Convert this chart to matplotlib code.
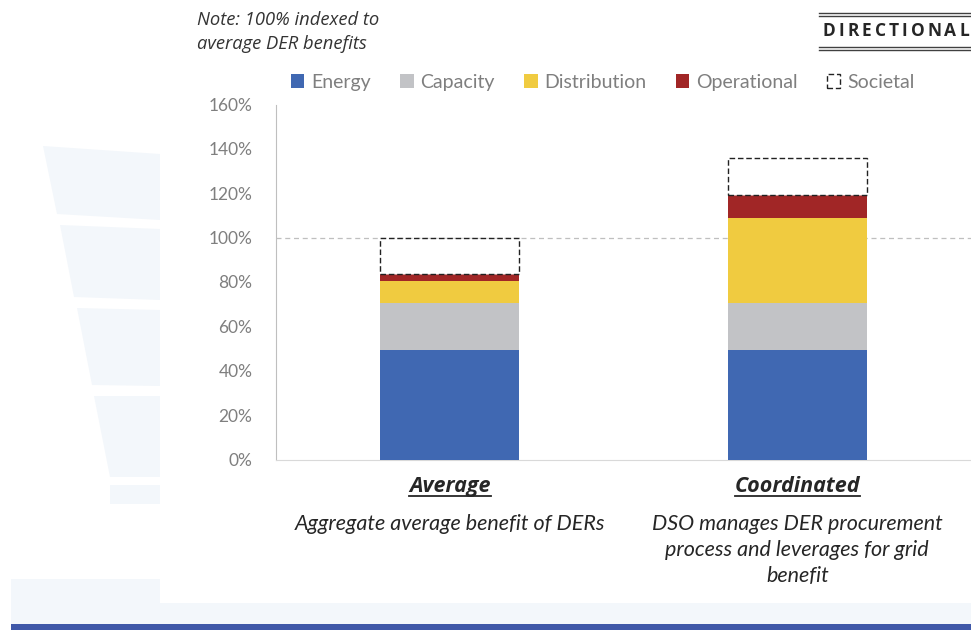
import matplotlib
matplotlib.use("Agg")
import matplotlib.pyplot as plt
from matplotlib.patches import Polygon, Rectangle
from matplotlib.lines import Line2D
import numpy as np

plt.rcParams['font.family'] = ['Lato', 'DejaVu Sans']

categories = ["Average", "Coordinated"]
descriptions = ["Aggregate average benefit of DERs",
                "DSO manages DER procurement\nprocess and leverages for grid\nbenefit"]
series_names = ["Energy", "Capacity", "Distribution", "Operational", "Societal"]
energy = [49.5, 49.5]
capacity = [21.0, 21.0]
distribution = [10.0, 38.5]
operational = [3.0, 10.0]
societal = [16.5, 17.0]
yticks = [0, 20, 40, 60, 80, 100, 120, 140, 160]

colors = ["#4068B2", "#C2C3C6", "#F0CB40", "#A12626", "white"]

W, H = 971, 630
fig = plt.figure(figsize=(W / 100, H / 100), dpi=100)

def fx(x):
    return x / W

def fy(y):
    return 1 - y / H

# background decoration
deco = "#F3F7FB"
bands = [
    [(43, 146), (160, 154), (160, 220), (57, 214)],
    [(60, 225), (160, 229), (160, 300), (74, 297)],
    [(77, 308), (160, 310), (160, 386), (92, 385)],
    [(94, 396), (160, 396), (160, 477), (110, 477)],
    [(110, 485), (160, 485), (160, 504), (110, 504)],
]
for b in bands:
    fig.patches.append(Polygon([(fx(x), fy(y)) for x, y in b], closed=True,
                               transform=fig.transFigure, facecolor=deco,
                               edgecolor='none', zorder=0))
fig.patches.append(Rectangle((fx(11), fy(624)), fx(960), (624 - 579) / H,
                             transform=fig.transFigure, facecolor=deco,
                             edgecolor='none', zorder=0))
fig.patches.append(Rectangle((fx(160), fy(603)), fx(811), (603 - 579) / H,
                             transform=fig.transFigure, facecolor='white',
                             edgecolor='none', zorder=0))
fig.patches.append(Rectangle((fx(11), 0), fx(960), 6 / H,
                             transform=fig.transFigure, facecolor='#3F58A8',
                             edgecolor='none', zorder=0))

ax_left, ax_bottom_px, ax_top_px = 276, 459.5, 104.5
ax = fig.add_axes([fx(ax_left), fy(ax_bottom_px), fx(971) - fx(ax_left),
                   (ax_bottom_px - ax_top_px) / H])
ax.set_facecolor('none')

x = np.arange(len(categories))
width = 0.4
bottoms = np.zeros(len(categories))
data = [energy, capacity, distribution, operational, societal]
for name, vals, col in zip(series_names, data, colors):
    vals = np.array(vals)
    if name == "Societal":
        ax.bar(x, vals, width, bottom=bottoms, facecolor='white',
               edgecolor='#222222', linestyle=(0, (4, 2)), linewidth=1.0,
               label=name, zorder=3)
    else:
        ax.bar(x, vals, width, bottom=bottoms, color=col, label=name,
               zorder=3, linewidth=0)
    bottoms = bottoms + vals

ax.set_xlim(-0.5, 1.5)
ax.set_ylim(0, 160)
ax.set_yticks(yticks)
ax.set_yticklabels([f"{t}%" for t in yticks], fontsize=12.5, color='#7F7F7F')
ax.set_xticks([])
ax.tick_params(axis='y', length=0, pad=17)
for s in ['top', 'right']:
    ax.spines[s].set_visible(False)
ax.spines['left'].set_color('#BFBFBF')
ax.spines['bottom'].set_color('#D9D9D9')
ax.axhline(100, color='#BFBFBF', linestyle=(0, (4, 3)), linewidth=0.9, zorder=1)

ax_w_px = 971 - ax_left
leg = ax.legend(ncol=5, loc='center left',
                bbox_to_anchor=((283 - ax_left) / ax_w_px,
                                1 + (ax_top_px - 82.5) / (ax_bottom_px - ax_top_px)),
                frameon=False, fontsize=14, handlelength=0.7, handleheight=0.7,
                handletextpad=0.35, columnspacing=1.5, borderaxespad=0)
for t in leg.get_texts():
    t.set_color('#7F7F7F')

# note
note_font = ['Open Sans', 'DejaVu Sans']
fig.text(fx(197), fy(20), "Note: 100% indexed to", fontsize=13.2, style='italic',
         color='#333333', va='center', ha='left', family=note_font)
fig.text(fx(197), fy(44), "average DER benefits", fontsize=13.2, style='italic',
         color='#333333', va='center', ha='left', family=note_font)

fig.canvas.draw()
renderer = fig.canvas.get_renderer()

# DIRECTIONAL with letter spacing
word = "DIRECTIONAL"
x0, x1 = 823, 969
chars = []
widths = []
for ch in word:
    t = fig.text(0, fy(31.5), ch, fontsize=12.5, weight='bold', color='#262626',
                 va='center', ha='left', family=note_font)
    widths.append(t.get_window_extent(renderer).width)
    chars.append(t)
extra = ((x1 - x0) - sum(widths)) / (len(word) - 1)
pos = x0
for t, w in zip(chars, widths):
    t.set_x(fx(pos))
    pos += w + extra
for yy in [13, 15.5, 47, 49.5]:
    fig.add_artist(Line2D([fx(819), 1], [fy(yy), fy(yy)], color='#404040',
                          linewidth=1.0, transform=fig.transFigure))

# category labels with underline
for i, (c, d) in enumerate(zip(categories, descriptions)):
    cx = ax.transData.transform((x[i], 0))[0] / W
    t = fig.text(cx, fy(492), c, fontsize=15.5, weight='bold', style='italic',
                 color='#262626', ha='center', va='baseline',
                 family=note_font)
    bb = t.get_window_extent(renderer)
    fig.add_artist(Line2D([bb.x0 / W, bb.x1 / W], [fy(496), fy(496)],
                          color='#262626', linewidth=1.3, transform=fig.transFigure))
    fig.text(cx, fy(514), d, fontsize=15.5, style='italic', color='#262626',
             ha='center', va='top', linespacing=1.38,
             family=['Lato', 'DejaVu Sans'])

fig.savefig("out.png", dpi=100)
